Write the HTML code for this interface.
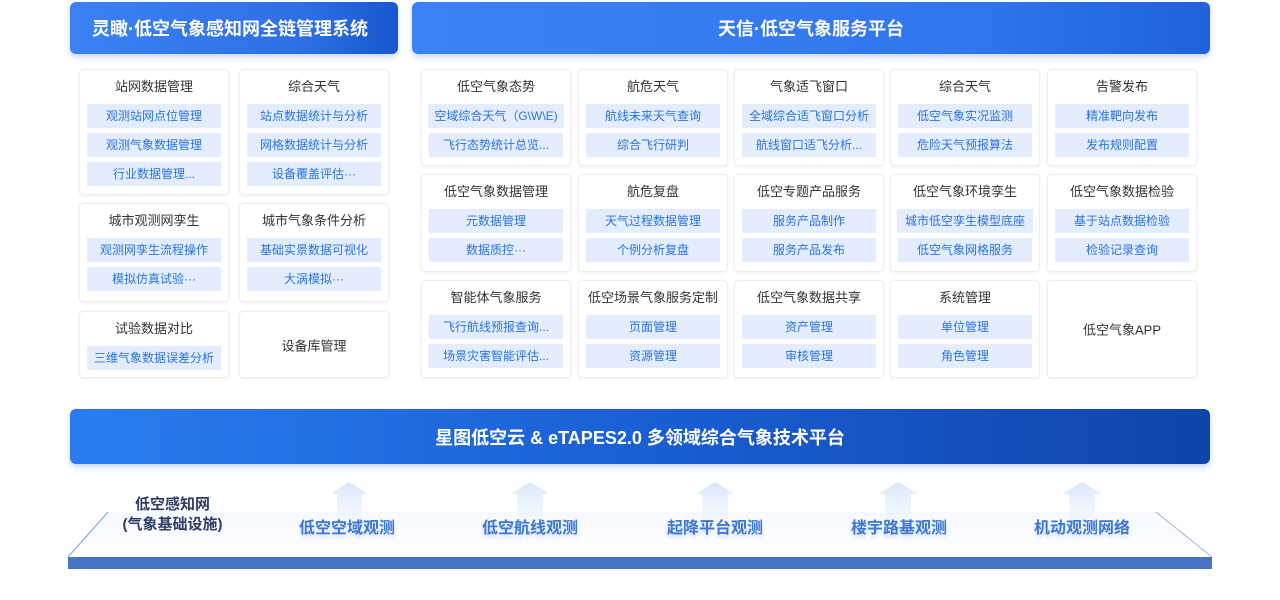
<!DOCTYPE html>
<html><head><meta charset="utf-8"><style>
*{margin:0;padding:0;box-sizing:border-box}
body{width:1280px;height:600px;background:#fff;position:relative;overflow:hidden;font-family:"Liberation Sans","Noto Sans CJK SC",sans-serif}
.hd{position:absolute;top:2px;height:52px;border-radius:6px;background:linear-gradient(90deg,#3b82f6,#2f6fe6 70%,#1558d0);color:#fff;font-size:18px;font-weight:bold;display:flex;align-items:center;box-shadow:0 3px 6px rgba(40,90,200,.25)}
.c{position:absolute;border:1px solid #eceef2;border-radius:4px;background:#fff;box-shadow:0 1px 3px rgba(0,0,0,.06)}
.t{position:absolute;left:0;right:0;top:6px;text-align:center;font-size:13px;color:#333}
.i{position:absolute;left:7px;right:7px;height:24px;background:#e3edfd;color:#2a73e8;font-size:12px;text-align:center;line-height:24px;white-space:nowrap;overflow:hidden}
.ct{position:absolute;left:0;right:0;top:50%;transform:translateY(-50%);text-align:center;font-size:13px;color:#333}
.lab{position:absolute;top:514px;font-size:16px;font-weight:bold;color:#3e78d6;text-align:center;width:140px;text-shadow:0 3px 3px rgba(60,120,214,.2)}
</style></head><body>
<div class="hd" style="left:70px;width:328px;padding-left:22px">灵瞰·低空气象感知网全链管理系统</div>
<div class="hd" style="left:412px;width:798px;justify-content:center;background:linear-gradient(90deg,#3b82f6,#3176ee 70%,#1f62dc)">天信·低空气象服务平台</div>

<div class="c" style="left:79px;top:69px;width:150px;height:126px"><div class="t">站网数据管理</div><div class="i" style="top:34px">观测站网点位管理</div><div class="i" style="top:63px">观测气象数据管理</div><div class="i" style="top:92px">行业数据管理...</div></div>
<div class="c" style="left:239px;top:69px;width:150px;height:126px"><div class="t">综合天气</div><div class="i" style="top:34px">站点数据统计与分析</div><div class="i" style="top:63px">网格数据统计与分析</div><div class="i" style="top:92px">设备覆盖评估···</div></div>
<div class="c" style="left:79px;top:203px;width:150px;height:99px"><div class="t">城市观测网孪生</div><div class="i" style="top:34px">观测网孪生流程操作</div><div class="i" style="top:63px">模拟仿真试验···</div></div>
<div class="c" style="left:239px;top:203px;width:150px;height:99px"><div class="t">城市气象条件分析</div><div class="i" style="top:34px">基础实景数据可视化</div><div class="i" style="top:63px">大涡模拟···</div></div>
<div class="c" style="left:79px;top:311px;width:150px;height:67px"><div class="t">试验数据对比</div><div class="i" style="top:34px">三维气象数据误差分析</div></div>
<div class="c" style="left:239px;top:311px;width:150px;height:67px"><div class="ct">设备库管理</div></div>

<div class="c" style="left:421px;top:69px;width:150px;height:97px"><div class="t">低空气象态势</div><div class="i" style="top:34px;left:6px;right:6px">空域综合天气（G\W\E)</div><div class="i" style="top:63px">飞行态势统计总览...</div></div>
<div class="c" style="left:578px;top:69px;width:150px;height:97px"><div class="t">航危天气</div><div class="i" style="top:34px">航线未来天气查询</div><div class="i" style="top:63px">综合飞行研判</div></div>
<div class="c" style="left:734px;top:69px;width:150px;height:97px"><div class="t">气象适飞窗口</div><div class="i" style="top:34px">全域综合适飞窗口分析</div><div class="i" style="top:63px">航线窗口适飞分析...</div></div>
<div class="c" style="left:890px;top:69px;width:150px;height:97px"><div class="t">综合天气</div><div class="i" style="top:34px">低空气象实况监测</div><div class="i" style="top:63px">危险天气预报算法</div></div>
<div class="c" style="left:1047px;top:69px;width:150px;height:97px"><div class="t">告警发布</div><div class="i" style="top:34px">精准靶向发布</div><div class="i" style="top:63px">发布规则配置</div></div>

<div class="c" style="left:421px;top:174px;width:150px;height:98px"><div class="t">低空气象数据管理</div><div class="i" style="top:34px">元数据管理</div><div class="i" style="top:63px">数据质控···</div></div>
<div class="c" style="left:578px;top:174px;width:150px;height:98px"><div class="t">航危复盘</div><div class="i" style="top:34px">天气过程数据管理</div><div class="i" style="top:63px">个例分析复盘</div></div>
<div class="c" style="left:734px;top:174px;width:150px;height:98px"><div class="t">低空专题产品服务</div><div class="i" style="top:34px">服务产品制作</div><div class="i" style="top:63px">服务产品发布</div></div>
<div class="c" style="left:890px;top:174px;width:150px;height:98px"><div class="t">低空气象环境孪生</div><div class="i" style="top:34px;left:6px;right:6px">城市低空孪生模型底座</div><div class="i" style="top:63px">低空气象网格服务</div></div>
<div class="c" style="left:1047px;top:174px;width:150px;height:98px"><div class="t">低空气象数据检验</div><div class="i" style="top:34px">基于站点数据检验</div><div class="i" style="top:63px">检验记录查询</div></div>

<div class="c" style="left:421px;top:280px;width:150px;height:98px"><div class="t">智能体气象服务</div><div class="i" style="top:34px">飞行航线预报查询...</div><div class="i" style="top:63px">场景灾害智能评估...</div></div>
<div class="c" style="left:578px;top:280px;width:150px;height:98px"><div class="t">低空场景气象服务定制</div><div class="i" style="top:34px">页面管理</div><div class="i" style="top:63px">资源管理</div></div>
<div class="c" style="left:734px;top:280px;width:150px;height:98px"><div class="t">低空气象数据共享</div><div class="i" style="top:34px">资产管理</div><div class="i" style="top:63px">审核管理</div></div>
<div class="c" style="left:890px;top:280px;width:150px;height:98px"><div class="t">系统管理</div><div class="i" style="top:34px">单位管理</div><div class="i" style="top:63px">角色管理</div></div>
<div class="c" style="left:1047px;top:280px;width:150px;height:98px"><div class="ct">低空气象APP</div></div>

<div class="hd" style="left:70px;top:409px;width:1140px;height:55px;justify-content:center;background:linear-gradient(90deg,#2a7df0,#1a5fd6 50%,#0f45a8);font-size:18px">星图低空云 &amp; eTAPES2.0 多领域综合气象技术平台</div>

<svg style="position:absolute;left:0;top:470px" width="1280" height="130">
<defs>
<linearGradient id="pg" x1="0" y1="0" x2="0" y2="1"><stop offset="0" stop-color="#f6f9ff"/><stop offset="1" stop-color="#fdfeff"/></linearGradient>
<linearGradient id="ag" x1="0" y1="0" x2="0" y2="1"><stop offset="0" stop-color="#d6e6fc"/><stop offset="1" stop-color="#f4f8ff" stop-opacity="0.3"/></linearGradient>
</defs>
<polygon points="108,42 1156,42 1212,87 68,87" fill="url(#pg)"/>
<line x1="108" y1="42" x2="68" y2="87" stroke="#7a9ee0" stroke-width="1"/>
<line x1="1156" y1="42" x2="1212" y2="87" stroke="#9ab4e6" stroke-width="1"/>
<rect x="68" y="87" width="1144" height="12" fill="#4775c4"/>
<g fill="url(#ag)">
<polygon points="331,24 349,12 368,24 362,24 362,60 337,60 337,24"/>
<polygon points="511,24 530,12 549,24 543,24 543,60 517,60 517,24"/>
<polygon points="696,24 715,12 734,24 728,24 728,60 702,60 702,24"/>
<polygon points="878,24 898,12 918,24 911,24 911,60 885,60 885,24"/>
<polygon points="1062,24 1082,12 1102,24 1095,24 1095,60 1069,60 1069,24"/>
</g>
</svg>
<div style="position:absolute;left:100px;top:495px;width:145px;text-align:center;font-size:15px;font-weight:bold;color:#2b3c66;line-height:20px">低空感知网<br>(气象基础设施)</div>
<div class="lab" style="left:277px">低空空域观测</div>
<div class="lab" style="left:460px">低空航线观测</div>
<div class="lab" style="left:645px">起降平台观测</div>
<div class="lab" style="left:829px">楼宇路基观测</div>
<div class="lab" style="left:1012px">机动观测网络</div>
</body></html>
